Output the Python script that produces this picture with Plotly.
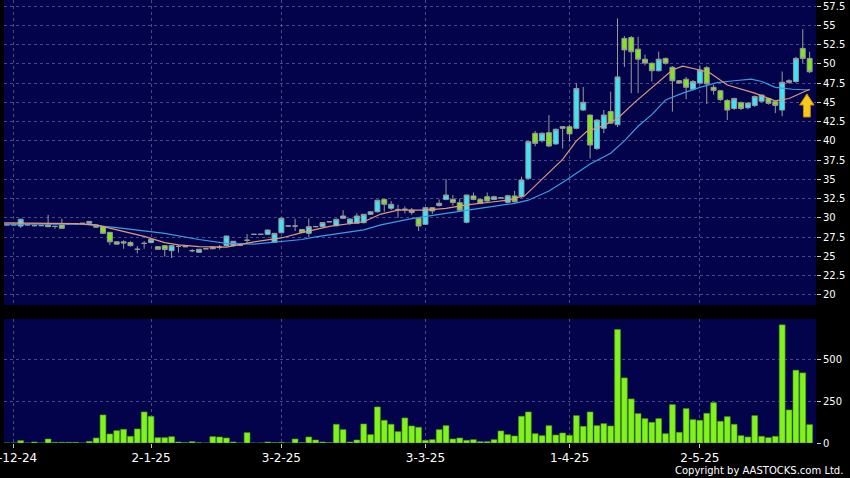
import plotly.graph_objects as go

# ---------------- data ----------------
# trading-day index, 0 = 2-12-24
day_index = list(range(-1, 117))

opens = [
    29.1, 29.1, 28.95, 29.1, 29.0, 29.0, 29.08, 28.9, 29.08, 29.25,
    29.25, 29.3, 29.3, 29.08, 28.87, 28.13, 26.9, 26.9, 26.8, 25.93,
    26.7, 26.8, 26.27, 26.4, 25.75, 26.3, 26.27, 25.75, 25.54, 26.0,
    26.2, 26.2, 26.4, 26.4, 26.45, 27.1, 27.87, 27.87, 27.87, 26.84,
    28.08, 28.95, 28.95, 28.5, 28.0, 28.87, 28.87, 29.5, 28.99, 29.95,
    29.3, 29.3, 29.38, 30.47, 30.8, 32.4, 31.25, 31.1, 31.15, 31.0,
    29.95, 29.17, 31.33, 31.6, 32.4, 32.4, 31.98, 29.43, 32.85, 32.4,
    32.75, 32.4, 32.6, 32.03, 32.85, 32.75, 35.14, 40.98, 40.02, 41.06,
    39.6, 41.63, 41.84, 41.63, 44.0, 43.35, 39.0, 41.63, 43.8, 42.1,
    53.3, 53.4, 51.9, 50.6, 50.07, 49.1, 50.7, 49.55, 47.8, 48.0,
    46.7, 47.5, 49.5, 46.95, 46.5, 45.25, 44.2, 44.95, 44.3, 44.6,
    45.15, 45.5, 45.08, 44.0, 47.6, 47.7, 52.0, 50.7,
]
highs = [
    29.1, 29.1, 29.9, 29.1, 29.1, 29.0, 30.4, 29.0, 29.9, 29.25,
    29.25, 29.3, 29.6, 29.1, 28.9, 28.15, 26.95, 27.1, 27.0, 26.35,
    27.0, 27.3, 26.3, 26.45, 26.45, 26.5, 26.3, 25.95, 25.95, 26.0,
    26.25, 26.5, 27.7, 27.0, 26.45, 27.9, 27.87, 27.87, 28.5, 28.05,
    30.0, 28.95, 29.9, 28.55, 29.95, 28.9, 29.45, 29.5, 29.9, 31.0,
    29.9, 30.6, 30.5, 30.85, 32.35, 32.45, 32.2, 31.7, 31.5, 31.3,
    30.0, 31.4, 31.4, 32.4, 35.05, 32.97, 32.5, 33.0, 33.3, 32.5,
    33.3, 32.9, 32.7, 33.0, 33.5, 35.35, 40.0, 41.3, 41.1, 43.35,
    41.6, 41.9, 42.1, 47.5, 47.0, 43.4, 42.8, 44.0, 46.4, 55.9,
    53.6, 53.6, 53.5, 51.2, 50.2, 51.57, 50.8, 49.7, 47.9, 48.3,
    47.9, 49.8, 49.7, 47.3, 46.6, 45.4, 45.6, 45.1, 45.0, 45.9,
    46.0, 45.6, 45.2, 49.0, 48.0, 50.9, 54.5, 51.57,
]
lows = [
    29.1, 29.1, 28.7, 29.1, 28.9, 29.0, 28.8, 28.6, 28.6, 29.25,
    29.25, 29.3, 29.3, 28.7, 27.9, 26.5, 26.5, 26.0, 26.3, 25.4,
    26.0, 26.7, 25.9, 25.0, 24.8, 25.5, 26.2, 25.55, 25.5, 26.0,
    25.95, 25.9, 26.3, 26.3, 26.45, 26.7, 27.87, 27.87, 27.8, 26.8,
    28.0, 28.95, 28.3, 28.05, 27.5, 28.8, 28.8, 29.5, 28.9, 29.9,
    29.1, 29.2, 29.3, 30.4, 30.7, 30.8, 31.0, 30.0, 30.6, 30.4,
    28.3, 29.1, 30.5, 31.5, 32.3, 31.6, 30.9, 29.3, 32.3, 31.8,
    32.1, 32.3, 32.5, 31.9, 32.0, 32.6, 35.0, 39.3, 39.8, 39.2,
    39.5, 39.0, 39.9, 41.5, 43.9, 37.7, 38.8, 41.0, 42.2, 41.8,
    49.6, 46.2, 46.2, 49.8, 47.7, 49.0, 49.9, 43.8, 47.4, 45.4,
    46.5, 47.3, 44.8, 46.0, 45.2, 42.7, 44.0, 44.0, 44.1, 44.4,
    45.0, 44.7, 43.6, 43.2, 47.4, 47.5, 50.07, 48.8,
]
closes = [
    29.1, 29.1, 29.82, 29.1, 29.0, 29.0, 28.86, 28.9, 28.65, 29.25,
    29.25, 29.3, 29.55, 28.8, 28.0, 26.9, 26.6, 26.75, 26.4, 25.93,
    26.7, 27.2, 25.93, 25.9, 26.4, 26.3, 26.27, 25.75, 25.93, 26.0,
    26.0, 26.2, 27.65, 26.97, 26.45, 27.1, 27.87, 27.87, 28.43, 28.0,
    29.95, 28.95, 28.95, 28.1, 28.87, 28.87, 29.4, 29.5, 29.82, 30.25,
    29.86, 30.25, 30.47, 30.8, 32.3, 31.77, 31.77, 31.1, 31.1, 30.7,
    28.95, 31.33, 30.9, 31.9, 32.97, 32.0, 31.0, 32.97, 32.4, 31.9,
    32.2, 32.75, 32.6, 32.88, 32.1, 34.92, 39.9, 39.68, 40.98, 39.33,
    41.5, 41.84, 40.9, 46.8, 45.0, 39.46, 42.7, 43.35, 42.3, 48.3,
    51.8, 51.57, 50.6, 50.1, 49.1, 50.6, 50.07, 47.8, 47.5, 46.95,
    47.7, 49.2, 47.4, 46.55, 45.35, 44.0, 45.5, 44.2, 44.9, 45.75,
    45.95, 44.87, 44.6, 47.6, 47.8, 50.7, 50.7, 48.97,
]
volumes = [
    0, 0, 14, 0, 6, 0, 24, 4, 4, 4,
    4, 0, 10, 30, 168, 54, 74, 82, 40, 84,
    186, 160, 32, 32, 38, 6, 2, 8, 2, 0,
    38, 36, 30, 6, 0, 62, 0, 0, 6, 2,
    4, 0, 24, 2, 36, 18, 6, 2, 112, 80,
    6, 18, 114, 50, 216, 136, 112, 68, 150, 102,
    94, 16, 20, 80, 104, 24, 30, 16, 20, 8,
    8, 20, 72, 50, 42, 160, 186, 56, 44, 104,
    48, 60, 46, 164, 100, 186, 104, 116, 102, 680,
    390, 264, 176, 146, 124, 146, 56, 230, 64, 206,
    140, 136, 178, 242, 130, 158, 112, 44, 36, 164,
    40, 32, 40, 708, 198, 436, 420, 110,
]

# moving-average lines (read at sample days)
ma_fast_days = [-1.5, 4, 9, 12, 15, 19, 22, 24, 27, 31, 35, 39, 42, 44, 46, 51, 53.5, 56, 60,
                63, 66, 70, 72, 74.5, 77.5, 80, 82, 83.5, 86, 88, 90.5, 92.5, 94, 96, 97.5,
                100, 101.5, 104, 108, 111, 113, 116]
ma_fast = [29.35, 29.3, 29.25, 29.1, 28.45, 27.6, 26.8, 26.5, 26.27, 26.2, 26.9, 27.4, 28.1,
           28.5, 28.9, 29.5, 30.5, 31.0, 31.0, 31.25, 31.7, 32.1, 32.3, 32.9, 35.5, 37.6, 40.0,
           41.2, 42.0, 42.9, 45.0, 46.5, 47.6, 49.2, 49.7, 49.2, 48.8, 47.25, 46.2, 45.2, 45.5,
           46.7]
ma_slow_days = [-1.5, 10, 15, 19, 22, 27, 31, 35, 39, 42, 44, 48, 51, 53.5, 58, 63, 66, 70, 73,
                75, 78, 80.5, 84, 87, 89, 91, 93, 95, 97.5, 100, 102.5, 105, 107.5, 109, 111,
                113.5, 116]
ma_slow = [29.2, 29.2, 28.75, 28.3, 28.0, 27.2, 26.7, 26.6, 26.9, 27.2, 27.55, 28.1, 28.45,
           29.1, 29.9, 30.6, 31.0, 31.45, 31.9, 32.3, 33.5, 34.9, 37.0, 38.4, 40.0, 41.9, 43.4,
           45.3, 46.2, 46.95, 47.55, 47.8, 48.0, 47.7, 46.95, 46.7, 46.6]

tick_days = [0, 20, 39, 60, 81, 100]
tick_text = ["2-12-24", "2-1-25", "3-2-25", "3-3-25", "1-4-25", "2-5-25"]

price_ticks = [20 + 2.5 * k for k in range(16)]
volume_ticks = [0, 250, 500]

# signal arrow (price levels)
ARROW_TIP, ARROW_NECK, ARROW_BASE = 46.1, 44.65, 43.1

# ---------------- style ----------------
BG = "#000000"
PANEL = "#03034c"
GRID = "rgba(120,120,175,0.6)"
UP = "#3ee3f4"
DOWN = "#80e420"
EDGE = "#9a9a9a"
VOL = "#80f21e"
FONT = "DejaVu Sans"

fig = go.Figure()

fig.add_trace(go.Candlestick(
    x=day_index, open=opens, high=highs, low=lows, close=closes,
    increasing=dict(fillcolor=UP, line=dict(color=EDGE, width=1)),
    decreasing=dict(fillcolor=DOWN, line=dict(color=EDGE, width=1)),
    whiskerwidth=0, xaxis="x", yaxis="y", showlegend=False, hoverinfo="skip",
))
fig.add_trace(go.Scatter(
    x=ma_slow_days, y=ma_slow, mode="lines", line=dict(color="#3f9be0", width=1.2),
    xaxis="x", yaxis="y", showlegend=False, hoverinfo="skip",
))
fig.add_trace(go.Scatter(
    x=ma_fast_days, y=ma_fast, mode="lines", line=dict(color="#e09a7a", width=1.2),
    xaxis="x", yaxis="y", showlegend=False, hoverinfo="skip",
))
fig.add_trace(go.Bar(
    x=day_index, y=volumes, marker=dict(color=VOL, line=dict(color="#4f9a10", width=0.6)),
    xaxis="x2", yaxis="y2", showlegend=False, hoverinfo="skip",
))

ax_x = day_index[-1] - 0.4
arrow_path = (
    f"M {ax_x - 1.05} {ARROW_NECK} L {ax_x} {ARROW_TIP} L {ax_x + 1.05} {ARROW_NECK} "
    f"L {ax_x + 0.5} {ARROW_NECK} L {ax_x + 0.5} {ARROW_BASE} L {ax_x - 0.5} {ARROW_BASE} "
    f"L {ax_x - 0.5} {ARROW_NECK} Z"
)
fig.add_shape(type="path", path=arrow_path, xref="x", yref="y",
              fillcolor="#f8c81c", line=dict(color="#c88a00", width=1))

xr = [-1.43, 116.93]
common_x = dict(range=xr, showgrid=True, gridcolor=GRID, griddash="3px,3px", gridwidth=1,
                zeroline=False, showline=False, tickvals=tick_days, ticktext=tick_text,
                automargin=False)

fig.update_layout(
    width=850, height=478,
    margin=dict(l=4, r=34, t=0, b=35, autoexpand=False),
    paper_bgcolor=BG, plot_bgcolor=PANEL,
    font=dict(family=FONT, color="#ffffff", size=10),
    bargap=0.15, boxgap=0.2, boxgroupgap=0.1,
    xaxis=dict(domain=[0, 1], anchor="y", showticklabels=False, ticks="",
               rangeslider=dict(visible=False), **common_x),
    xaxis2=dict(domain=[0, 1], anchor="y2", matches="x", ticks="outside", ticklen=4,
                tickcolor="#cccccc", tickfont=dict(size=12, color="#ffffff"),
                ticklabeloverflow="allow", **common_x),
    yaxis=dict(domain=[0.3115, 1], anchor="x", side="right", range=[18.7, 58.28],
               tickvals=price_ticks, ticks="outside", ticklen=4, tickcolor="#cccccc",
               tickfont=dict(size=10, color="#ffffff"), showgrid=True, gridcolor=GRID,
               griddash="3px,3px", zeroline=False, showline=False, automargin=False),
    yaxis2=dict(domain=[0, 0.2799], anchor="x2", side="right", range=[0, 743],
                tickvals=volume_ticks, ticks="outside", ticklen=4, tickcolor="#cccccc",
                tickfont=dict(size=10, color="#ffffff"), showgrid=True, gridcolor=GRID,
                griddash="3px,3px", zeroline=False, showline=False, automargin=False),
    annotations=[dict(text="Copyright by AASTOCKS.com Ltd.", xref="paper", yref="paper",
                      x=1.0357, y=-0.0632, xanchor="right", yanchor="middle", showarrow=False,
                      font=dict(size=10, color="#ffffff", family=FONT))],
)

fig.write_html(
    "out.html",
    config={"displayModeBar": False, "staticPlot": True},
    post_script="document.body.style.margin='0';document.body.style.padding='0';"
                "document.body.style.background='#000';",
)
